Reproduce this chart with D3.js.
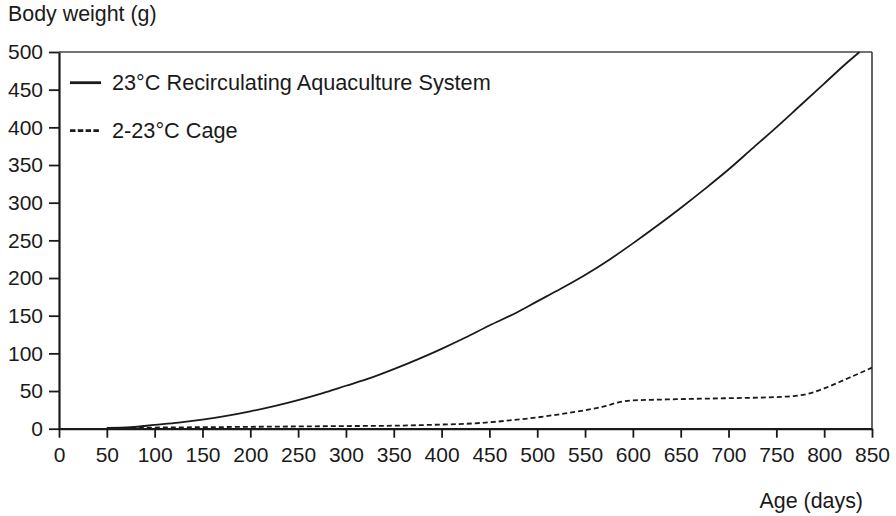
<!DOCTYPE html>
<html>
<head>
<meta charset="utf-8">
<script src="https://cdn.jsdelivr.net/npm/d3@7"></script>
<style>
  html, body { margin: 0; padding: 0; background: #fff; }
  svg { display: block; font-family: "Liberation Sans", Arial, Helvetica, sans-serif; }
</style>
</head>
<body>
<svg id="chart" width="896" height="516"></svg>
<script>
// ---- Data ----
const seriesNames = ["23°C Recirculating Aquaculture System", "2-23°C Cage"];
const rasAge    = [50, 75, 100, 125, 150, 175, 200, 225, 250, 275, 300, 325, 350, 375, 400, 425, 450, 475, 500, 525, 550, 575, 600, 625, 650, 675, 700, 725, 750, 775, 800, 825, 837];
const rasWeight = [1, 2, 5, 8, 12, 17, 23, 30, 38, 47, 57, 67, 79, 92, 106, 121, 137, 152, 169, 186, 204, 224, 246, 269, 293, 318, 344, 372, 400, 429, 458, 487, 500];
const cageAge    = [50, 100, 150, 200, 250, 300, 350, 400, 425, 450, 475, 500, 525, 550, 570, 585, 600, 625, 650, 700, 750, 770, 785, 800, 816, 825, 850];
const cageWeight = [0.5, 1.5, 2, 2.5, 3, 3.5, 4, 5.5, 6.5, 8.5, 11.5, 15, 19.5, 24.5, 29.5, 35, 37.5, 38.5, 39.3, 40.5, 42, 43.5, 47, 53.5, 62, 67, 81];
const xTicks = d3.range(0, 851, 50);
const yTicks = d3.range(0, 501, 50);
const yTitle = "Body weight (g)";
const xTitle = "Age (days)";

// ---- Layout ----
const svg = d3.select("#chart");
const pLeft = 59, pRight = 872, pTop = 52, pBottom = 428.7;
const x = d3.scaleLinear().domain([0, 850]).range([pLeft, pRight]);
const y = d3.scaleLinear().domain([0, 500]).range([pBottom, pTop]);
const ink = "#1a1a1a";
const tickFont = 21, titleFont = 21.4, legendFont = 21.7;

// frame top & right (thin)
svg.append("line").attr("x1", pLeft).attr("x2", pRight).attr("y1", pTop).attr("y2", pTop)
  .attr("stroke", "#444").attr("stroke-width", 1.5);
svg.append("line").attr("x1", pRight).attr("x2", pRight).attr("y1", pTop).attr("y2", pBottom)
  .attr("stroke", "#333").attr("stroke-width", 1.5);

// axes
const xAxis = svg.append("g").attr("transform", `translate(0,${pBottom})`)
  .call(d3.axisBottom(x).tickValues(xTicks).tickSize(9).tickPadding(9).tickSizeOuter(0));
const yAxis = svg.append("g").attr("transform", `translate(${pLeft},0)`)
  .call(d3.axisLeft(y).tickValues(yTicks).tickSize(10).tickPadding(6).tickSizeOuter(0));
[xAxis, yAxis].forEach(g => {
  g.select(".domain").attr("stroke", ink).attr("stroke-width", 2.2);
  g.selectAll(".tick line").attr("stroke", ink).attr("stroke-width", 1.8);
  g.selectAll(".tick text").attr("fill", ink).attr("font-size", tickFont)
    .attr("font-family", "Liberation Sans, Arial, sans-serif");
});

// titles
svg.append("text").attr("x", 8).attr("y", 21).attr("font-size", titleFont).attr("fill", ink).text(yTitle);
svg.append("text").attr("x", 863).attr("y", 508).attr("text-anchor", "end")
  .attr("font-size", titleFont).attr("fill", ink).text(xTitle);

// lines
const line = d3.line().x(d => x(d[0])).y(d => y(d[1])).curve(d3.curveMonotoneX);
svg.append("path").datum(rasAge.map((a, i) => [a, rasWeight[i]]))
  .attr("d", line).attr("fill", "none").attr("stroke", ink).attr("stroke-width", 1.8);
svg.append("path").datum(cageAge.map((a, i) => [a, cageWeight[i]]))
  .attr("d", line).attr("fill", "none").attr("stroke", ink).attr("stroke-width", 1.8)
  .attr("stroke-dasharray", "5,3");

// legend
const legend = [
  { name: seriesNames[0], dash: null, yy: 82.7, w: 2.8 },
  { name: seriesNames[1], dash: "5.5,2.3", yy: 130.7, w: 2.8 }
];
legend.forEach(l => {
  svg.append("line").attr("x1", 70).attr("x2", 101).attr("y1", l.yy).attr("y2", l.yy)
    .attr("stroke", ink).attr("stroke-width", l.w).attr("stroke-dasharray", l.dash);
  svg.append("text").attr("x", 112).attr("y", l.yy + 7.7).attr("font-size", legendFont)
    .attr("fill", ink).text(l.name);
});
</script>
</body>
</html>
